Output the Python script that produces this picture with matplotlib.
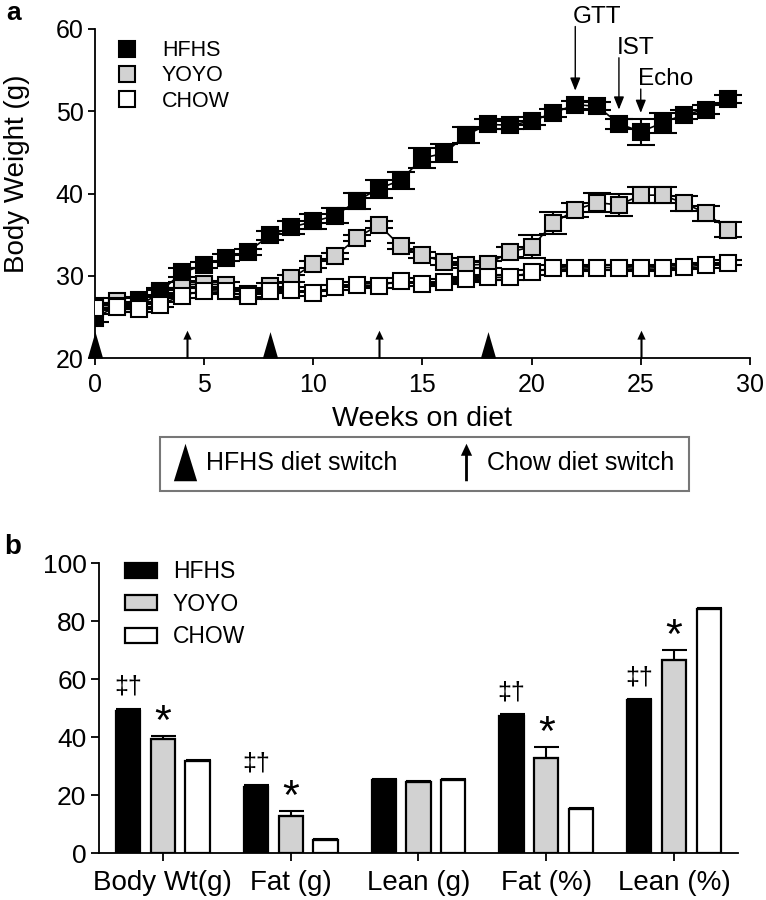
import matplotlib
matplotlib.use('Agg')
import matplotlib.pyplot as plt
import numpy as np
from matplotlib.path import Path
from matplotlib.lines import Line2D
from matplotlib.patches import Patch

plt.rcParams['font.family'] = ['Liberation Sans', 'DejaVu Sans']

# ---------------- data: panel a ----------------
weeks = list(range(30))
hfhs = [24.9, 26.3, 27.0, 28.1, 30.4, 31.3, 32.2, 32.9, 34.9, 35.9,
        36.6, 37.3, 39.1, 40.6, 41.6, 44.3, 44.9, 47.1, 48.4, 48.3,
        48.8, 49.8, 50.8, 50.6, 48.5, 47.5, 48.6, 49.6, 50.2, 51.5]
hfhs_err = [0.5, 0.4, 0.4, 0.4, 0.5, 0.4, 0.4, 0.4, 0.6, 0.8,
            0.9, 0.9, 1.0, 1.1, 1.0, 1.2, 1.1, 1.0, 0.6, 0.5,
            0.5, 0.5, 0.5, 0.5, 0.6, 1.6, 1.2, 0.6, 0.5, 0.5]
yoyo = [26.3, 26.9, 26.4, 27.9, 28.9, 29.0, 28.9, 27.8, 28.7, 29.7,
        31.4, 32.4, 34.6, 36.2, 33.6, 32.5, 31.7, 31.3, 31.4, 32.9,
        33.5, 36.4, 38.0, 38.9, 38.6, 39.8, 39.8, 38.8, 37.6, 35.6]
yoyo_err = [0.4, 0.4, 0.4, 0.4, 0.4, 0.4, 0.4, 0.4, 0.4, 0.4,
            0.4, 0.4, 0.4, 0.4, 0.4, 0.4, 0.4, 0.4, 0.4, 0.6,
            1.4, 1.3, 0.9, 1.2, 1.3, 1.0, 1.0, 0.9, 0.9, 0.9]
chow = [26.1, 26.2, 25.9, 26.5, 27.6, 28.2, 28.1, 27.5, 28.2, 28.3,
        27.9, 28.6, 28.9, 28.8, 29.4, 29.0, 29.3, 29.6, 29.8, 29.8,
        30.4, 31.0, 30.9, 31.0, 31.0, 30.9, 31.0, 31.1, 31.3, 31.6]
chow_err = [0.3] * 30

hfhs_switch_weeks = [0, 8, 18]
chow_switch_weeks = [4.2, 13, 25]
test_labels = ['GTT', 'IST', 'Echo']
test_weeks = [22, 24, 25]

# ---------------- data: panel b ----------------
categories = ['Body Wt(g)', 'Fat (g)', 'Lean (g)', 'Fat (%)', 'Lean (%)']
hfhs_b = [49.0, 22.8, 25.1, 47.2, 52.6]
hfhs_b_err = [0.8, 0.6, 0.4, 0.6, 0.5]
yoyo_b = [39.2, 12.7, 24.5, 32.9, 66.5]
yoyo_b_err = [1.3, 1.7, 0.4, 3.6, 3.4]
chow_b = [31.8, 4.6, 25.3, 15.1, 84.2]
chow_b_err = [0.3, 0.3, 0.3, 0.3, 0.3]
hfhs_sig = ['‡†', '‡†', '', '‡†', '‡†']
yoyo_sig = ['*', '*', '', '*', '*']

GRAY = '#d2d2d2'

# custom marker shapes (anchor at base)
def tri_path():
    return Path([(-0.58, 0), (0.58, 0), (0, 2), (-0.58, 0)],
                [Path.MOVETO, Path.LINETO, Path.LINETO, Path.CLOSEPOLY])

def arrow_path(base=0.0):
    s, hw, hb = 0.075, 0.3, 1.36
    v = [(-s, 0), (s, 0), (s, hb), (hw, hb), (0, 2), (-hw, hb), (-s, hb), (-s, 0)]
    v = [(px, py - base) for px, py in v]
    return Path(v + [v[0]], [Path.MOVETO] + [Path.LINETO] * 7 + [Path.CLOSEPOLY])

def tri_center_path():
    return Path([(-0.62, -1), (0.62, -1), (0, 1), (-0.62, -1)],
                [Path.MOVETO, Path.LINETO, Path.LINETO, Path.CLOSEPOLY])

fig = plt.figure(figsize=(7.66, 9), dpi=100)

# ================= panel a =================
ax = fig.add_axes([0.124, 0.6022, 0.855, 0.3656])
ms, mew = 11.3, 1.5
common = dict(fmt='-s', color='black', lw=1.2, ms=ms, mew=mew, mec='black',
              ecolor='black', elinewidth=1.5, capsize=10, capthick=1.5)
ax.errorbar(weeks, yoyo, yerr=yoyo_err, mfc=GRAY, zorder=3, **common)
ax.errorbar(weeks, hfhs, yerr=hfhs_err, mfc='black', zorder=4, **common)
ax.errorbar(weeks, chow, yerr=chow_err, mfc='white', zorder=5, **common)

ax.plot(hfhs_switch_weeks, [20] * len(hfhs_switch_weeks), linestyle='none',
        marker=tri_path(), ms=38, color='black', mew=0, clip_on=False, zorder=6)
ax.plot(chow_switch_weeks, [20] * len(chow_switch_weeks), linestyle='none',
        marker=arrow_path(), ms=40, color='black', mew=0, clip_on=False, zorder=6)

for i, (lab, w) in enumerate(zip(test_labels, test_weeks)):
    tip = hfhs[w] + max(hfhs_err[w], 1.0) + 0.7
    base_y = 60.75 - 3.8 * i
    ax.text(w - 0.12, base_y, lab, fontsize=17.5, ha='left', va='baseline', clip_on=False)
    ax.annotate('', xy=(w, tip), xytext=(w, base_y - 0.45),
                arrowprops=dict(arrowstyle='-|>,head_length=0.55,head_width=0.22',
                                color='black', lw=1.0, mutation_scale=14,
                                shrinkA=0, shrinkB=0),
                annotation_clip=False)

ax.set_xlim(0, 30)
ax.set_ylim(20, 60)
ax.set_xticks(range(0, 31, 5))
ax.set_yticks(range(20, 61, 10))
for s in ['top', 'right']:
    ax.spines[s].set_visible(False)
for s in ['left', 'bottom']:
    ax.spines[s].set_linewidth(1.3)
ax.tick_params(direction='out', length=5, width=1.3, labelsize=18)
ax.tick_params(axis='x', pad=6)
ax.tick_params(axis='y', pad=3)
ax.set_xlabel('Weeks on diet', fontsize=20.5, labelpad=6)
ax.set_ylabel('Body Weight (g)', fontsize=20)
ax.yaxis.set_label_coords(-0.099, 0.56)

h_a = [Line2D([], [], ls='none', marker='s', ms=ms, mew=mew, mec='black', mfc=c)
       for c in ['black', GRAY, 'white']]
ax.legend(h_a, ['HFHS', 'YOYO', 'CHOW'], loc='upper left', bbox_to_anchor=(0.01, 1.012),
          frameon=False, fontsize=15.5, handlelength=1.0, handletextpad=1.1,
          labelspacing=0.2, borderpad=0.2)

# bottom legend box
h_sw = [Line2D([], [], ls='none', marker=tri_center_path(), ms=27, color='black', mew=0),
        Line2D([], [], ls='none', marker=arrow_path(1.0), ms=27, color='black', mew=0)]
leg = fig.legend(h_sw, ['HFHS diet switch', 'Chow diet switch'], loc='center',
                 bbox_to_anchor=(424.5 / 766, 1 - 463.5 / 900), ncol=2, fontsize=18,
                 frameon=True, fancybox=False, edgecolor='#555555', handlelength=0.8,
                 handletextpad=0.45, columnspacing=2.35, borderpad=0.6)
leg.get_frame().set_linewidth(1.5)

fig.text(0.008, 0.986, 'a', fontsize=19, fontweight='bold', va='center', ha='left')

# ================= panel b =================
bx = fig.add_axes([0.1292, 0.0522, 0.8342, 0.3222])
x = np.arange(len(categories))
off, bw = 0.272, 0.19
bkw = dict(edgecolor='black', linewidth=1.6, width=bw, zorder=3,
           error_kw=dict(elinewidth=1.5, capsize=9, capthick=1.5, ecolor='black'))
bx.bar(x - off, hfhs_b, yerr=[np.zeros(5), hfhs_b_err], color='black', **bkw)
bx.bar(x, yoyo_b, yerr=[np.zeros(5), yoyo_b_err], color=GRAY, **bkw)
bx.bar(x + off, chow_b, yerr=[np.zeros(5), chow_b_err], color='white', **bkw)

for i in range(len(categories)):
    if hfhs_sig[i]:
        bx.annotate(hfhs_sig[i], xy=(x[i] - off, hfhs_b[i] + hfhs_b_err[i]),
                    xytext=(0, 7), textcoords='offset points', ha='center',
                    va='bottom', fontsize=18)
    if yoyo_sig[i]:
        bx.annotate(yoyo_sig[i], xy=(x[i], yoyo_b[i] + yoyo_b_err[i]),
                    xytext=(0, -5), textcoords='offset points', ha='center',
                    va='bottom', fontsize=31)

bx.set_xlim(-0.5, 4.5)
bx.set_ylim(0, 100)
bx.set_yticks(range(0, 101, 20))
bx.set_xticks(x)
bx.set_xticklabels(categories, fontsize=20)
for s in ['top', 'right']:
    bx.spines[s].set_visible(False)
for s in ['left', 'bottom']:
    bx.spines[s].set_linewidth(1.3)
bx.tick_params(direction='out', length=6, width=1.3)
bx.tick_params(axis='y', labelsize=19, pad=3)
bx.tick_params(axis='x', pad=6)

h_b = [Patch(facecolor=c, edgecolor='black', linewidth=1.6) for c in ['black', GRAY, 'white']]
bx.legend(h_b, ['HFHS', 'YOYO', 'CHOW'], loc='upper left', bbox_to_anchor=(0.015, 1.065),
          frameon=False, fontsize=16.5, handlelength=1.4, handleheight=0.65,
          handletextpad=0.7, labelspacing=0.42, borderpad=0.2)

fig.text(0.006, 0.392, 'b', fontsize=20, fontweight='bold', va='center', ha='left')

fig.savefig('out.png', dpi=100)
